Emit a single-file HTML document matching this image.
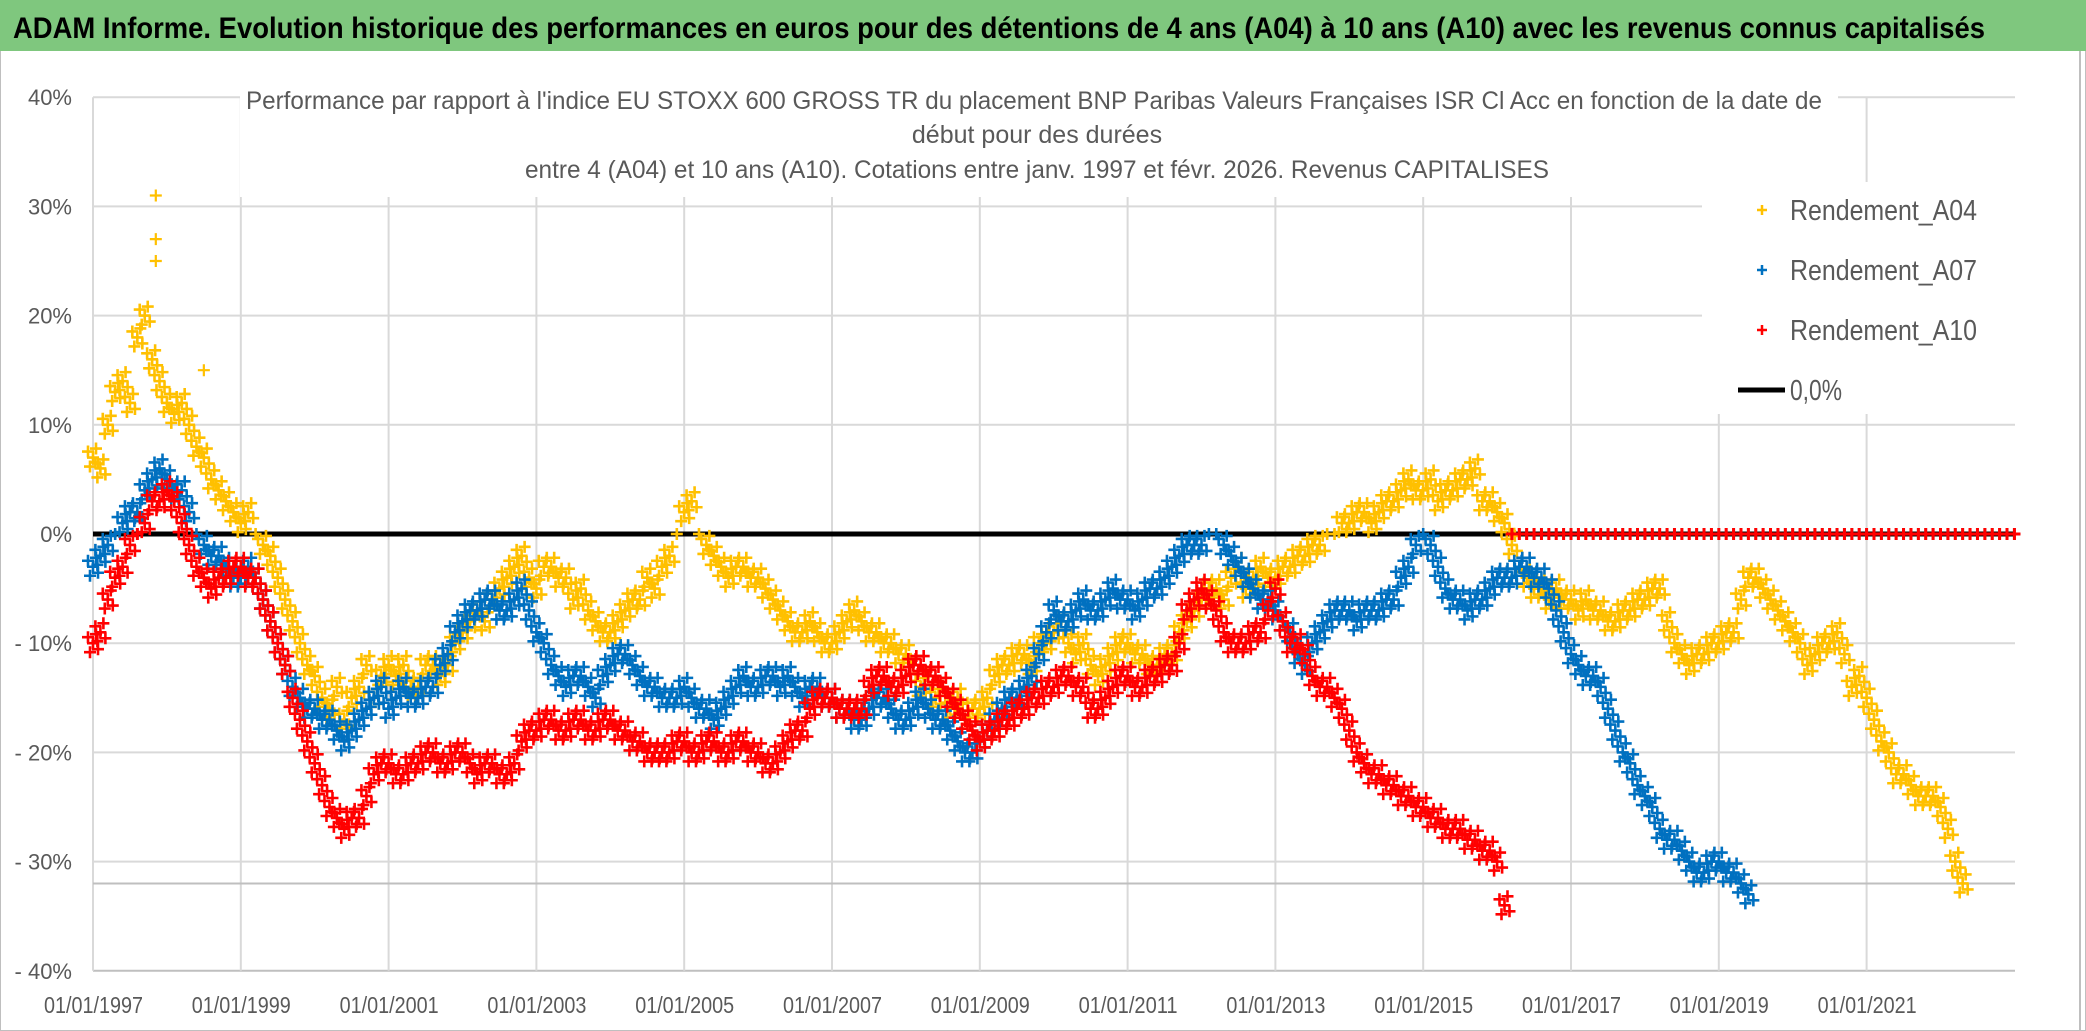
<!DOCTYPE html>
<html><head><meta charset="utf-8"><style>
html,body{margin:0;padding:0;background:#fff}
svg{display:block}
text{font-family:"Liberation Sans Narrow","Liberation Sans",sans-serif}
</style></head><body>
<svg id="chart" width="2086" height="1031" viewBox="0 0 2086 1031" xmlns="http://www.w3.org/2000/svg">
<rect x="0.5" y="0.5" width="2085" height="1030" fill="#fff" stroke="#bfbfbf"/>
<rect x="0" y="0" width="2086" height="51" fill="#7FC77E"/>
<text x="13" y="38" font-size="30" font-weight="bold" fill="#000" textLength="1972" lengthAdjust="spacingAndGlyphs">ADAM Informe. Evolution historique des performances en euros pour des détentions de 4 ans (A04) à 10 ans (A10) avec les revenus connus capitalisés</text>
<line x1="2080" y1="51" x2="2080" y2="1031" stroke="#bfbfbf" stroke-width="2"/>
<g id="grid"></g>
<g id="marks"></g>
<rect x="240" y="88" width="1598" height="109" fill="#fff"/>
<g fill="#595959" font-size="25">
<text x="246" y="109" textLength="1576" lengthAdjust="spacingAndGlyphs">Performance par rapport à l'indice EU STOXX 600 GROSS TR du placement BNP Paribas Valeurs Françaises ISR Cl Acc en fonction de la date de</text>
<text x="1037" y="143" text-anchor="middle">début pour des durées</text>
<text x="525" y="178" textLength="1024" lengthAdjust="spacingAndGlyphs">entre 4 (A04) et 10 ans (A10). Cotations entre janv. 1997 et févr. 2026. Revenus CAPITALISES</text>
</g>
<rect x="1702" y="182" width="313" height="232" fill="#fff"/>
<g id="legend"></g>
<g id="axes"></g>
</svg>
<script>
const NS="http://www.w3.org/2000/svg";
const yTicks=[40,30,20,10,0,-10,-20,-30,-40];
const yTickLabels=["40%","30%","20%","10%","0%","- 10%","- 20%","- 30%","- 40%"];
const xTickYears=[1997,1999,2001,2003,2005,2007,2009,2011,2013,2015,2017,2019,2021];
const xTickLabels=["01/01/1997","01/01/1999","01/01/2001","01/01/2003","01/01/2005","01/01/2007","01/01/2009","01/01/2011","01/01/2013","01/01/2015","01/01/2017","01/01/2019","01/01/2021"];
const startYear=1997;
const stepYears=0.1;
const seriesNames=["Rendement_A04","Rendement_A07","Rendement_A10"];
const seriesColors=["#FFC000","#0070C0","#FF0000"];
const a04=[7,6,10,13,14,12,18,20,16,14,
12,11,12,10,8,7,5,4,3,2,
1,2,0,-1,-2,-4,-6,-8,-10,-12,
-13,-15,-16,-14,-17,-15,-14,-12,-15,-13,
-12,-13,-12,-14,-14,-12,-12,-13,-12,-10,
-9,-8,-7,-8,-6,-5,-4,-3,-2,-4,
-5,-3,-3,-4,-4,-6,-5,-7,-8,-9,
-9,-8,-7,-6,-6,-4,-5,-3,-2,0,
2,3,0,-1,-2,-3,-4,-3,-3,-4,
-4,-5,-6,-7,-8,-9,-9,-8,-9,-10,
-10,-9,-8,-7,-8,-9,-9,-10,-10,-11,
-11,-12,-14,-13,-15,-14,-16,-15,-17,-16,
-16,-15,-13,-12,-12,-11,-11,-12,-10,-10,
-9,-8,-10,-11,-10,-12,-13,-12,-11,-10,
-10,-11,-11,-12,-12,-11,-11,-9,-8,-7,
-6,-5,-5,-6,-4,-3,-5,-4,-3,-4,
-4,-3,-3,-2,-2,-1,-1,0,0,1,
1,2,2,1,2,3,3,4,5,4,
4,5,3,4,4,5,5,6,3,3,
2,1,-1,-3,-4,-5,-5,-6,-5,-6,
-6,-7,-6,-7,-7,-8,-8,-7,-7,-6,
-6,-5,-5,-8,-10,-11,-12,-11,-11,-10,
-10,-9,-9,-6,-4,-4,-5,-6,-7,-8,
-9,-10,-12,-11,-10,-10,-9,-11,-14,-13,
-15,-17,-19,-20,-22,-22,-23,-24,-24,-24,
-25,-27,-30,-32,0,0,0,0,0,0,0];
const a07=[-3,-2,-1,0,1,2,2,4,5,6,
5,4,4,2,0,-1,-2,-2,-3,-4,
-4,-3,-4,-6,-8,-10,-12,-14,-15,-16,
-16,-17,-17,-18,-19,-18,-17,-16,-15,-14,
-16,-15,-14,-15,-15,-14,-14,-12,-11,-9,
-8,-7,-7,-6,-6,-7,-7,-6,-5,-7,
-9,-10,-12,-13,-14,-13,-13,-14,-15,-13,
-12,-11,-11,-12,-13,-14,-14,-15,-15,-15,
-14,-15,-16,-16,-17,-16,-15,-14,-13,-14,
-14,-13,-13,-14,-13,-14,-15,-14,-14,-15,
-15,-16,-16,-17,-17,-16,-15,-15,-16,-17,
-17,-16,-15,-16,-17,-17,-18,-19,-20,-20,
-19,-18,-17,-16,-15,-15,-14,-13,-11,-9,
-7,-8,-8,-7,-6,-7,-7,-6,-5,-6,
-6,-7,-6,-5,-5,-4,-3,-2,-1,-1,
-1,0,0,-1,-2,-3,-4,-5,-6,-6,
-7,-8,-9,-11,-12,-10,-9,-8,-7,-7,
-7,-8,-7,-7,-7,-6,-6,-4,-3,-1,
0,-1,-3,-5,-6,-6,-7,-6,-6,-5,
-4,-4,-4,-3,-3,-4,-4,-5,-7,-9,
-11,-12,-13,-13,-14,-16,-18,-20,-21,-23,
-24,-25,-27,-28,-28,-29,-30,-31,-31,-30,
-30,-31,-31,-32,-33,0,0,0,0,0,
0,0,0,0,0,0,0,0,0,0,
0,0,0,0,0,0,0,0,0,0,
0,0,0,0,0,0,0,0,0,0,0];
const a10=[-10,-9,-6,-4,-3,-1,0,1,3,3,
4,3,1,-1,-3,-4,-5,-4,-4,-3,
-3,-4,-4,-6,-8,-10,-12,-15,-17,-19,
-21,-23,-25,-26,-27,-26,-26,-24,-22,-21,
-21,-22,-22,-21,-21,-20,-20,-21,-21,-20,
-20,-21,-22,-21,-21,-22,-22,-21,-19,-18,
-18,-17,-17,-18,-18,-17,-17,-18,-18,-17,
-17,-18,-18,-19,-19,-20,-20,-20,-20,-19,
-19,-20,-20,-19,-19,-20,-20,-19,-19,-20,
-20,-21,-21,-20,-19,-18,-18,-16,-15,-15,
-15,-16,-16,-16,-16,-14,-13,-13,-14,-14,
-13,-12,-12,-13,-13,-14,-15,-16,-17,-18,
-19,-18,-18,-17,-17,-16,-16,-15,-15,-14,
-14,-13,-13,-14,-14,-16,-16,-15,-14,-13,
-13,-14,-14,-13,-13,-12,-12,-10,-7,-6,
-5,-6,-7,-9,-10,-10,-10,-9,-9,-7,
-5,-8,-10,-10,-11,-13,-14,-14,-15,-16,
-18,-20,-21,-22,-22,-23,-23,-24,-24,-25,
-25,-26,-26,-27,-27,-27,-28,-28,-29,-29,
-30,-34,0,0,0,0,0,0,0,0,
0,0,0,0,0,0,0,0,0,0,
0,0,0,0,0,0,0,0,0,0,
0,0,0,0,0,0,0,0,0,0,
0,0,0,0,0,0,0,0,0,0,
0,0,0,0,0,0,0,0,0,0,
0,0,0,0,0,0,0,0,0,0,0];
const seriesData=[a04,a07,a10];
const a04OutlierYears=[1997.85,1997.85,1997.85,1998.5];
const a04OutlierValues=[31,27,25,15];

const X0=93, PXY=73.9, Y0=534, PXV=10.92, XR=2015;
function xScale(year){return X0+(year-startYear)*PXY;}
function yScale(v){return Y0-v*PXV;}
function mk(tag,attrs,parent){const e=document.createElementNS(NS,tag);for(const k in attrs)e.setAttribute(k,attrs[k]);parent.appendChild(e);return e;}

const grid=document.getElementById('grid');
yTicks.forEach((t,i)=>{
  const l=mk('line',{x1:X0,x2:XR,y1:yScale(t),y2:yScale(t),stroke:(t===-40?'#bfbfbf':'#d9d9d9'),'stroke-width':2},grid);
  
  
});
xTickYears.forEach((yr,i)=>{
  const l=mk('line',{x1:xScale(yr),x2:xScale(yr),y1:yScale(40),y2:yScale(-40),stroke:'#d9d9d9','stroke-width':2},grid);
  
  
});
const ref=mk('line',{x1:X0,x2:XR,y1:yScale(-32),y2:yScale(-32),stroke:'#bfbfbf','stroke-width':2},grid);



const marks=document.getElementById('marks');
const zero=mk('line',{x1:X0,x2:XR,y1:yScale(0),y2:yScale(0),stroke:'#000','stroke-width':5},marks);



function plus(g,x,y,s,color,w){
  return mk('path',{d:`M${x-s} ${y}H${x+s}M${x} ${y-s}V${y+s}`,stroke:color,'stroke-width':w,fill:'none'},g);
}
// marker cluster pattern (visual density only; offsets in px)
const clusterDx=[0,3,-3,5,-5];
const clusterDy=[0,-9,9,6,-6];
seriesData.forEach((arr,si)=>{
  const g=mk('g',{},marks);
  
  
  arr.forEach((v,i)=>{
    const x=xScale(startYear+i*stepYears), y=yScale(v);
    const n=(v===0)?1:clusterDx.length;
    for(let k=0;k<n;k++){
      const p=plus(g,x+clusterDx[k],y+clusterDy[k],6,seriesColors[si],2.6);
      
      
    }
  });
  if(si===0){
    a04OutlierYears.forEach((yr,i)=>{
      const p=plus(g,xScale(yr),yScale(a04OutlierValues[i]),6,seriesColors[0],2.2);
      
      
    });
  }
});
// redraw zero segments of A10 on top for the red band
(function(){
  const g=mk('g',{},marks);
  
  
  a10.forEach((v,i)=>{
    if(v!==0)return;
    const p=plus(g,xScale(startYear+i*stepYears),yScale(v),6,seriesColors[2],3);
    
    
  });
})();

const axes=document.getElementById('axes');
yTicks.forEach((t,i)=>{
  const tx=mk('text',{x:72,y:yScale(t)+8,'text-anchor':'end','font-size':22,fill:'#595959'},axes);
  tx.textContent=yTickLabels[i];
  
  
});
xTickYears.forEach((yr,i)=>{
  const tx=mk('text',{x:xScale(yr)-49,y:1013,'font-size':23,fill:'#595959',textLength:99,lengthAdjust:'spacingAndGlyphs'},axes);
  tx.textContent=xTickLabels[i];
  
  
});

const legend=document.getElementById('legend');
const legY=[210,270,330];
seriesNames.forEach((n,i)=>{
  const p=plus(legend,1762,legY[i],5,seriesColors[i],2.5);
  
  
  const tx=mk('text',{x:1790,y:legY[i]+10,'font-size':29,fill:'#595959',textLength:187,lengthAdjust:'spacingAndGlyphs'},legend);
  tx.textContent=n;
  
  
});
const ll=mk('line',{x1:1738,x2:1785,y1:390,y2:390,stroke:'#000','stroke-width':5},legend);


const lt=mk('text',{x:1790,y:400,'font-size':29,fill:'#595959',textLength:52,lengthAdjust:'spacingAndGlyphs'},legend);
lt.textContent="0,0%";


</script>
</body></html>
